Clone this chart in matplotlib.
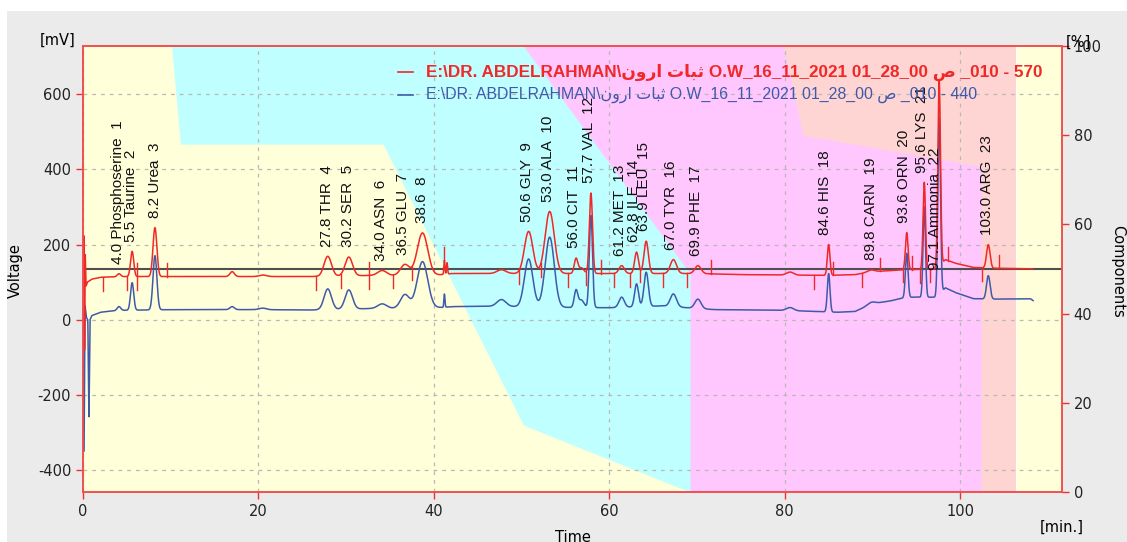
import numpy as np
import matplotlib
matplotlib.use("Agg")
import matplotlib.pyplot as plt
import matplotlib.transforms as mtransforms
from matplotlib.patches import Rectangle

plt.rcParams["axes.unicode_minus"] = False

# gradient program (% composition, stacked layers)
yellow_t = [0, 10.1, 11.1, 34.2, 50.2, 69.2, 106.4, 106.4, 112]
yellow_pct = [100, 100, 78, 78, 15, 0, 0, 100, 100]
cyan_t = [0, 50.2, 69.2, 69.2, 112]
cyan_pct = [100, 100, 49, 0, 0]
pink_t = [0, 79.8, 82.1, 102.4, 102.4, 112]
pink_pct = [100, 100, 80, 73, 0, 0]
salmon_t = [0, 106.4, 106.4, 112]
salmon_pct = [100, 100, 0, 0]

# baselines of both runs [min], [mV]
blue_base_t = [0, 0.12, 0.22, 0.4, 0.55, 0.68, 0.8, 1.0, 2.0, 4, 10, 20, 26, 33, 40, 41, 42,
               47, 55, 60, 66, 70, 72, 80, 86, 88, 90, 92, 93.5, 94.5, 97.4, 98.3, 99.5,
               101.5, 104, 108, 108.3]
blue_base_mv = [0, -357, 40, 5, 0, -264, 0, 11, 20, 25, 27, 27, 26, 30, 32, 33, 35,
                36, 33, 32, 37, 30, 27, 25, 20, 22, 43, 50, 58, 60, 60, 85, 72,
                56, 55, 56, 51]
red_base_t = [0, 0.1, 0.18, 0.25, 0.35, 0.5, 1.0, 2, 5, 10, 26, 33, 40, 42, 49, 60, 70,
              75, 85, 88, 90, 93, 97.4, 98.3, 99.5, 101.5, 104, 108, 108.3]
red_base_mv = [120, 229, -96, 180, 90, 100, 108, 113, 115, 115, 115, 118, 118, 123, 123, 123, 123,
               120, 118, 120, 128, 132, 136, 160, 150, 139, 137, 136, 134]

# peaks
peak_t = [4.1, 5.6, 8.2, 17.0, 20.5, 27.9, 30.3, 34.1, 36.7, 38.7, 41.2, 41.5, 47.7, 50.8,
          53.2, 56.2, 56.8, 57.9, 61.4, 63.1, 64.2, 67.3, 70.1, 80.6, 85.0, 89.8, 93.9,
          95.9, 97.6, 103.2]
blue_h = [10, 73, 144, 8, 4, 55, 51, 12, 36, 123, 35, 0, 18, 127,
          186, 45, 20, 245, 27, 61, 91, 34, 25, 8, 102, 5, 118,
          240, 470, 62]
red_h = [8, 67, 130, 13, 4, 53, 50, 13, 29, 113, 37, 30, 10, 112,
         165, 39, 15, 214, 21, 57, 86, 37, 21, 8, 82, 5, 99,
         231, 494, 62]
peak_w = [0.2, 0.18, 0.22, 0.25, 0.4, 0.42, 0.42, 0.5, 0.5, 0.6, 0.06, 0.06, 0.5, 0.48,
          0.52, 0.2, 0.3, 0.18, 0.3, 0.22, 0.25, 0.35, 0.35, 0.4, 0.15, 0.4, 0.15,
          0.14, 0.15, 0.2]

# integration markers on red run: time, direction (-1 below, 1 above, 0 both)
mark_t = [2.3, 5.0, 6.2, 9.6, 26.6, 29.4, 32.6, 35.3, 37.5, 41.2, 49.7, 52.2, 55.3, 57.3,
          59.0, 60.5, 62.4, 63.5, 66.1, 68.9, 71.6, 83.3, 85.5, 88.8, 90.8, 93.5, 94.5,
          95.4, 96.6, 98.6, 102.5, 104.4]
mark_dir = [-1, -1, 0, 1, -1, -1, 0, -1, -1, 1, -1, -1, -1, -1,
            1, -1, -1, -1, -1, -1, 1, -1, 1, -1, 1, -1, 1,
            -1, -1, 1, -1, 1]

label_rt = [4.0, 5.5, 8.2, 27.8, 30.2, 34.0, 36.5, 38.6, 50.6, 53.0, 56.0, 57.7, 61.2, 62.8,
            63.9, 67.0, 69.9, 84.6, 89.8, 93.6, 95.6, 97.1, 103.0]
label_txt = ["4.0 Phosphoserine  1", "5.5 Taurine  2", "8.2 Urea  3", "27.8 THR  4",
             "30.2 SER  5", "34.0 ASN  6", "36.5 GLU  7", "38.6  8", "50.6 GLY  9",
             "53.0 ALA  10", "56.0 CIT  11", "57.7 VAL  12", "61.2 MET  13", "62.8 ILE  14",
             "63.9 LEU  15", "67.0 TYR  16", "69.9 PHE  17", "84.6 HIS  18", "89.8 CARN  19",
             "93.6 ORN  20", "95.6 LYS  21", "97.1 Ammonia  22", "103.0 ARG  23"]

red_name = "E:\\DR. ABDELRAHMAN\\\u0646\u0648\u0631\u0627 \u062a\ufe8e\ufe92\ufe9b O.W_16_11_2021 01_28_00 \u0635 _010 - 570"
blue_name = "E:\\DR. ABDELRAHMAN\\\u0646\u0648\u0631\u0627 \u062a\ufe8e\ufe92\ufe9b O.W_16_11_2021 01_28_00 \u0635 _010 - 440"

RED = "#f02828"
BLUE = "#3f5aaa"

t = np.linspace(0, 108.3, 8000)
blue = np.interp(t, blue_base_t, blue_base_mv)
red = np.interp(t, red_base_t, red_base_mv)
for pt, hb, hr, w in zip(peak_t, blue_h, red_h, peak_w):
    g = np.exp(-0.5 * ((t - pt) / w) ** 2)
    blue += hb * g
    red += hr * g

fig = plt.figure(figsize=(11.27, 5.42), dpi=100)
fig.patch.set_facecolor("white")
fig.patches.append(Rectangle((7 / 1127, 0), 1, 1 - 11 / 542, transform=fig.transFigure,
                             facecolor="#ebebeb", edgecolor="none", zorder=-10))

ax = fig.add_axes([83 / 1127, 50 / 542, 979 / 1127, 446 / 542])
ax.set_xlim(0, 111.6)
ax.set_ylim(-458, 728)
trans = mtransforms.blended_transform_factory(ax.transData, ax.transAxes)

for tt, pp, col in [(salmon_t, salmon_pct, "#ffd5d3"), (pink_t, pink_pct, "#ffc7fe"),
                    (cyan_t, cyan_pct, "#c0ffff"), (yellow_t, yellow_pct, "#ffffd9")]:
    ax.fill_between(tt, 0, np.array(pp) / 100, color=col, lw=0, transform=trans, zorder=0)

ax.grid(True, color="#b8b8b8", ls=(0, (3, 4)), lw=0.9, zorder=1)
ax.set_axisbelow(True)
ax.plot([0, 111.6], [0.5, 0.5], color="#505050", lw=1.5, transform=trans, zorder=2)

ax.plot(t, blue, color=BLUE, lw=1.1, zorder=3)
ax.plot(t, red, color=RED, lw=1.1, zorder=4)

for mt, md in zip(mark_t, mark_dir):
    yb = np.interp(mt, t, red)
    lo = yb - 36 if md <= 0 else yb
    hi = yb + 36 if md >= 0 else yb
    ax.plot([mt, mt], [lo, hi], color=RED, lw=1.0, zorder=4)

for rt, txt in zip(label_rt, label_txt):
    sel = np.abs(t - rt) < 0.55
    y0 = red[sel].max()
    if "Ammonia" in txt:
        y0 = np.interp(rt, red_base_t, red_base_mv) - 30
    ax.annotate(txt, (rt, y0), xytext=(0, 7), textcoords="offset points", rotation=90,
                ha="center", va="bottom", fontsize=11, family="Liberation Sans",
                color="#111111", zorder=6)

# legend
ax.plot([0.322, 0.337], [0.9417, 0.9417], color=RED, lw=1.2, transform=ax.transAxes, zorder=7)
ax.plot([0.322, 0.337], [0.890, 0.890], color=BLUE, lw=1.2, transform=ax.transAxes, zorder=7)
ax.text(0.3504, 0.9417, red_name, transform=ax.transAxes, color=RED, fontsize=12.3,
        fontweight="bold", family=["Liberation Sans", "DejaVu Sans"], va="center", zorder=7)
ax.text(0.3504, 0.890, blue_name, transform=ax.transAxes, color=BLUE, fontsize=11.4,
        family=["Liberation Sans", "DejaVu Sans"], va="center", zorder=7)

ax.set_xticks([0, 20, 40, 60, 80, 100])
ax.set_yticks([-400, -200, 0, 200, 400, 600])
for s in ax.spines.values():
    s.set_color("#f05050")
    s.set_linewidth(1.2)
ax.tick_params(colors="#f03030", labelcolor="#222222", labelsize=10.5, length=5, width=1)

ax2 = ax.twinx()
ax2.set_ylim(0, 100)
ax2.set_yticks([0, 20, 40, 60, 80, 100])
ax2.patch.set_visible(False)
for s in ax2.spines.values():
    s.set_color("#f05050")
    s.set_linewidth(1.2)
ax2.tick_params(colors="#f03030", labelcolor="#222222", labelsize=10.5, length=5, width=1)

fig.text(15 / 1127, 0.5, "Voltage", rotation=90, ha="center", va="center", fontsize=10.5)
fig.text(1118 / 1127, 0.5, "Components", rotation=270, ha="center", va="center", fontsize=10.5)
fig.text(573 / 1127, 1 - 530 / 542, "Time", ha="center", va="top", fontsize=10.5)
fig.text(58 / 1127, 1 - 40 / 542, "[mV]", ha="center", va="center", fontsize=10.5)
fig.text(1078 / 1127, 1 - 42 / 542, "[%]", ha="center", va="center", fontsize=10.5)
fig.text(1062 / 1127, 1 - 527 / 542, "[min.]", ha="center", va="center", fontsize=10.5)

fig.savefig("out.png", dpi=100)
